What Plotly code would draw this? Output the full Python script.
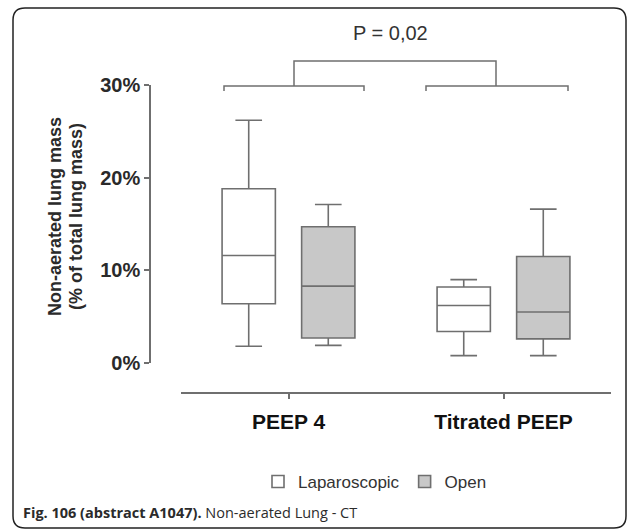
import plotly.graph_objects as go

# Non-aerated lung mass, % of total lung mass
categories = ['PEEP 4', 'Titrated PEEP']

lap_min = [1.8, 0.8]
lap_q1 = [6.4, 3.4]
lap_median = [11.6, 6.2]
lap_q3 = [18.8, 8.2]
lap_max = [26.2, 9.0]

open_min = [1.9, 0.8]
open_q1 = [2.7, 2.6]
open_median = [8.3, 5.5]
open_q3 = [14.7, 11.5]
open_max = [17.1, 16.6]

y_ticks = [0, 10, 20, 30]
y_tick_labels = [f'{v}%' for v in y_ticks]
p_value_text = 'P = 0,02'

W, H = 637, 532
LINE = '#6f6f6f'


def px(x):
    return x / W


def py(y):
    return 1 - y / H


def path(points):
    # svg path in paper coords from pixel points
    parts = []
    for i, (x, y) in enumerate(points):
        parts.append(('M' if i == 0 else 'L') + f'{px(x):.5f},{py(y):.5f}')
    return ' '.join(parts)


def rounded_rect(x0, y0, x1, y1, r):
    p = lambda x, y: f'{px(x):.5f},{py(y):.5f}'
    return (f'M{p(x0 + r, y0)} L{p(x1 - r, y0)} Q{p(x1, y0)} {p(x1, y0 + r)} '
            f'L{p(x1, y1 - r)} Q{p(x1, y1)} {p(x1 - r, y1)} '
            f'L{p(x0 + r, y1)} Q{p(x0, y1)} {p(x0, y1 - r)} '
            f'L{p(x0, y0 + r)} Q{p(x0, y0)} {p(x0 + r, y0)} Z')


fig = go.Figure()

fig.add_trace(go.Box(
    x=categories, q1=lap_q1, median=lap_median, q3=lap_q3,
    lowerfence=lap_min, upperfence=lap_max,
    name='Laparoscopic', fillcolor='white',
    line=dict(color=LINE, width=1.6), whiskerwidth=0.5,
    boxpoints=False, hoverinfo='skip'))

fig.add_trace(go.Box(
    x=categories, q1=open_q1, median=open_median, q3=open_q3,
    lowerfence=open_min, upperfence=open_max,
    name='Open', fillcolor='#c8c8c8',
    line=dict(color=LINE, width=1.6), whiskerwidth=0.5,
    boxpoints=False, hoverinfo='skip'))

fig.update_layout(
    width=W, height=H,
    margin=dict(l=0, r=0, t=0, b=0),
    paper_bgcolor='white', plot_bgcolor='white',
    boxmode='group', boxgap=0.26, boxgroupgap=0.33,
    xaxis=dict(domain=[px(181), px(611)], anchor='free', position=py(393),
               range=[-0.5, 1.5], showline=True, linecolor=LINE, linewidth=1.5,
               ticks='outside', ticklen=5, tickcolor=LINE, tickwidth=1.5,
               tickfont=dict(family='Liberation Sans', size=21, color='#111', weight='bold'),
               ticklabelstandoff=5, showgrid=False, zeroline=False, automargin=False),
    yaxis=dict(domain=[py(363), py(85)], anchor='free', position=px(150),
               range=[0, 30], tickvals=y_ticks, ticktext=y_tick_labels,
               showline=True, linecolor=LINE, linewidth=1.5,
               ticks='outside', ticklen=5, tickcolor=LINE, tickwidth=1.5,
               tickfont=dict(family='Liberation Sans', size=20, color='#2a2a2a', weight='bold'),
               showgrid=False, zeroline=False, automargin=False),
    legend=dict(orientation='h', x=px(375), xanchor='center', y=py(482), yanchor='middle',
                font=dict(family='Liberation Sans', size=17, color='#333'),
                itemwidth=30, bgcolor='rgba(0,0,0,0)'),
    showlegend=True,
)

# y axis title, two lines set close together
title_font = dict(family='Liberation Sans', size=18, color='#2a2a2a', weight='bold')
for text, x in [('Non-aerated lung mass', 55), ('(% of total lung mass)', 76)]:
    fig.add_annotation(x=px(x), y=py(217), xref='paper', yref='paper',
                       xanchor='center', yanchor='middle',
                       text=text, textangle=-90, showarrow=False, font=title_font)

# significance label
fig.add_annotation(x=px(390), y=py(33), xref='paper', yref='paper',
                   xanchor='center', yanchor='middle',
                   text=p_value_text, showarrow=False,
                   font=dict(family='Liberation Sans', size=20, color='#333'))

# caption
fig.add_annotation(x=px(21), y=py(512), xref='paper', yref='paper',
                   xanchor='left', yanchor='middle', showarrow=False,
                   text='<b>Fig. 106 (abstract A1047).</b> Non-aerated Lung - CT',
                   font=dict(family='Open Sans', size=14.5, color='#2b2b2b'))

# brackets
bracket_style = dict(type='path', xref='paper', yref='paper',
                     line=dict(color=LINE, width=1.5))
fig.add_shape(path=path([(294, 86), (294, 61), (496, 61), (496, 86)]), **bracket_style)
fig.add_shape(path=path([(224, 91), (224, 86), (364, 86), (364, 91)]), **bracket_style)
fig.add_shape(path=path([(426, 91), (426, 86), (568, 86), (568, 91)]), **bracket_style)

# outer frame
fig.add_shape(type='path', xref='paper', yref='paper',
              path=rounded_rect(13, 8, 626, 528, 12),
              line=dict(color='#222', width=1.5))

fig.write_html('out.html', config={'displayModeBar': False},
               post_script="document.body.style.margin = '0';")
